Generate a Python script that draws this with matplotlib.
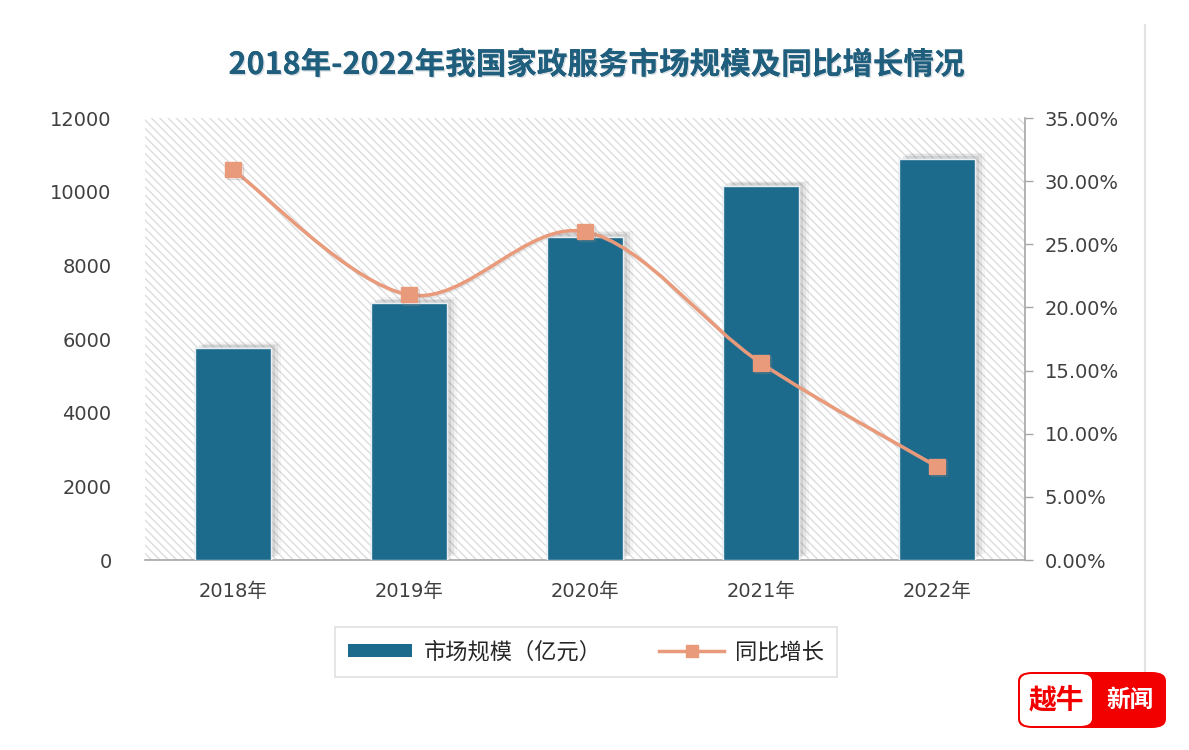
import numpy as np
import matplotlib
matplotlib.use('Agg')
import matplotlib.pyplot as plt
from matplotlib.patches import Rectangle, FancyBboxPatch, PathPatch
from matplotlib.path import Path
from matplotlib.lines import Line2D
import matplotlib.patheffects as pe

plt.rcParams['font.family'] = ['DejaVu Sans', 'Noto Sans CJK SC']
CJK = ['Noto Sans CJK SC', 'DejaVu Sans']

# data
years = ['2018年', '2019年', '2020年', '2021年', '2022年']
market_size = [5760, 6980, 8780, 10150, 10900]   # 亿元
growth = [30.9, 21.0, 26.0, 15.6, 7.4]            # %

bar_color = '#1C6A8C'
line_color = '#E99A7A'
title_color = '#1F5F7D'

fig = plt.figure(figsize=(11.89, 7.5), dpi=100)
ax = fig.add_axes([145/1189, 1-560/750, 880/1189, 442/750])
ax2 = ax.twinx()

x = np.arange(len(years))

# hatched plot background
ax.set_facecolor('white')
plt.rcParams['hatch.linewidth'] = 1.0
bg = Rectangle((0, 0), 1, 1, transform=ax.transAxes, facecolor='white',
               edgecolor='#DCDCDC', hatch='\\\\\\\\', linewidth=0, zorder=0)
ax.add_patch(bg)

# bars with a soft shadow
bars = ax.bar(x, market_size, width=0.43, color=bar_color, edgecolor='#E8EEF2',
              linewidth=1, zorder=3)
for b in bars:
    b.set_path_effects([
        pe.withSimplePatchShadow(offset=(7, 4), shadow_rgbFace='#777777', alpha=0.08),
        pe.withSimplePatchShadow(offset=(5, 3), shadow_rgbFace='#777777', alpha=0.12),
        pe.withSimplePatchShadow(offset=(3, 2), shadow_rgbFace='#777777', alpha=0.16),
        pe.Normal()])

ax.set_xlim(-0.5, 4.5)
ax.set_ylim(0, 12000)
ax.set_yticks(np.arange(0, 12001, 2000))
ax.set_xticks(x)
ax.set_xticklabels(years)
ax.tick_params(axis='y', length=0, labelsize=14, labelcolor='#404040', pad=24)
ax.tick_params(axis='x', length=0, labelsize=14, labelcolor='#404040', pad=16)
for s in ['top', 'left', 'right']:
    ax.spines[s].set_visible(False)
ax.spines['bottom'].set_color('#A6A6A6')
ax.spines['bottom'].set_linewidth(1.2)

# smooth growth line (Catmull-Rom style bezier through the points)
pts = np.column_stack([x, growth]).astype(float)
verts = [pts[0]]
codes = [Path.MOVETO]
n = len(pts)
for i in range(n - 1):
    p0 = pts[i - 1] if i > 0 else pts[i]
    p1 = pts[i]
    p2 = pts[i + 1]
    p3 = pts[i + 2] if i + 2 < n else pts[i + 1]
    c1 = p1 + (p2 - p0) / 6
    c2 = p2 - (p3 - p1) / 6
    verts += [c1, c2, p2]
    codes += [Path.CURVE4] * 3
curve = PathPatch(Path(verts, codes), facecolor='none', edgecolor=line_color,
                  linewidth=2.5, zorder=4,
                  path_effects=[pe.SimpleLineShadow(offset=(1, -1), shadow_color='#999999', alpha=0.25),
                                pe.Normal()])
ax2.add_patch(curve)
ax2.plot(x, growth, linestyle='none', marker='s', markersize=11, color=line_color,
         zorder=5,
         path_effects=[pe.SimpleLineShadow(offset=(1.5, -1.5), shadow_color='#888888', alpha=0.3),
                       pe.Normal()])

ax2.set_ylim(0, 35)
ax2.set_yticks(np.arange(0, 35.1, 5))
ax2.set_yticklabels(['%.2f%%' % v for v in np.arange(0, 35.1, 5)])
ax2.tick_params(axis='y', length=6, width=1, color='#A6A6A6', labelsize=14,
                labelcolor='#404040', pad=8)
for s in ['top', 'left', 'bottom']:
    ax2.spines[s].set_visible(False)
ax2.spines['right'].set_color('#A6A6A6')
ax2.spines['right'].set_linewidth(1.2)

# title
fig.text(596/1189, 1-65/750, '2018年-2022年我国家政服务市场规模及同比增长情况',
         ha='center', va='center', fontsize=22, fontweight='bold', color=title_color,
         family=CJK,
         path_effects=[pe.withSimplePatchShadow(offset=(1, -1), shadow_rgbFace='#9AA8B5', alpha=0.4),
                       pe.Normal()])

# legend
handles = [Rectangle((0, 0), 1, 1, facecolor=bar_color),
           Line2D([0], [0], color=line_color, linewidth=2.5, marker='s', markersize=9)]
leg = fig.legend(handles, ['市场规模（亿元）', '同比增长'], loc='center',
                 bbox_to_anchor=(586/1189, 1-652/750), ncol=2, frameon=True,
                 fancybox=False, edgecolor='#D9D9D9', handlelength=2.9,
                 handleheight=0.5, handletextpad=0.5, columnspacing=2.6,
                 borderpad=0.6, borderaxespad=0,
                 prop={'family': CJK, 'size': 16})
leg.get_frame().set_linewidth(1.2)
for t in leg.get_texts():
    t.set_color('#262626')

# frame line on the right
fig.add_artist(Line2D([1145/1189, 1145/1189], [1-25/750, 1-690/750],
                      color='#E3E3E3', linewidth=1.5, transform=fig.transFigure))

# logo
fig.add_artist(FancyBboxPatch((1018/1189, 1-728/750), 148/1189, 56/750,
                              boxstyle='round,pad=0,rounding_size=0.012',
                              facecolor='#F20000', edgecolor='none',
                              transform=fig.transFigure, zorder=5))
fig.add_artist(FancyBboxPatch((1020/1189, 1-726/750), 72/1189, 52/750,
                              boxstyle='round,pad=0,rounding_size=0.01',
                              facecolor='white', edgecolor='none',
                              transform=fig.transFigure, zorder=6))
fig.text(1056/1189, 1-700/750, '越牛', ha='center', va='center', fontsize=20,
         fontweight='bold', color='#F20000', family=CJK, zorder=7)
fig.text(1130/1189, 1-700/750, '新闻', ha='center', va='center', fontsize=17,
         fontweight='bold', color='white', family=CJK, zorder=7)

fig.savefig('out.png', dpi=100)
